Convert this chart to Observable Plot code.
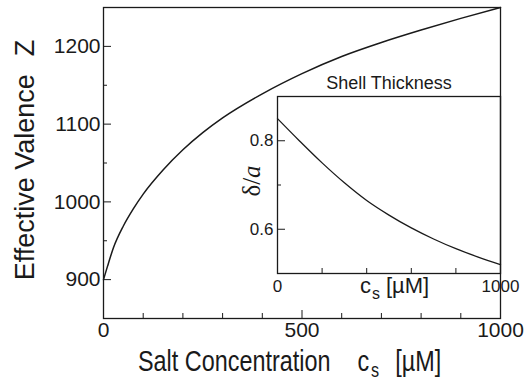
<!DOCTYPE html>
<html>
<head>
<meta charset="utf-8">
<script src="https://cdn.jsdelivr.net/npm/d3@7"></script>
<script src="https://cdn.jsdelivr.net/npm/@observablehq/plot@0.6"></script>
<style>
  html, body { margin: 0; padding: 0; background: white; }
  #wrap { position: relative; width: 531px; height: 383px; overflow: hidden; }
  #inset { position: absolute; left: 230px; top: 60px; }
  svg { font-family: "Liberation Sans", Arial, Helvetica, sans-serif; }
</style>
</head>
<body>
<div id="wrap"><div id="main"></div><div id="inset"></div></div>
<script>
// Main curve: effective valence Z vs salt concentration c_s [µM]
const saltConc = [0, 10, 25, 50, 75, 100, 150, 200, 250, 300, 400, 500, 600, 700, 800, 900, 1000];
const valence  = [900, 917, 941, 969, 991, 1010, 1041, 1067, 1089, 1108, 1139, 1165, 1187, 1205, 1221, 1236, 1250];

// Inset: shell thickness delta/a vs c_s
const insetConc  = [0, 100, 200, 300, 400, 500, 600, 700, 800, 900, 1000];
const shellRatio = [0.850, 0.799, 0.750, 0.705, 0.665, 0.632, 0.603, 0.578, 0.556, 0.537, 0.520];

// Ticks
const mainXMajor = [0, 500, 1000];
const mainXMinor = [100, 200, 300, 400, 600, 700, 800, 900];
const mainYMajor = [900, 1000, 1100, 1200];
const mainYMinor = [950, 1050, 1150];
const insetXLabels = [0, 1000];
const insetXTicks = [0, 200, 400, 600, 800, 1000];
const insetYMajor = [0.6, 0.8];
const insetYMinor = [0.7];

const ink = "#1a1a1a";

const mainData = saltConc.map((c, i) => ({c, z: valence[i]}));
const insetData = insetConc.map((c, i) => ({c, d: shellRatio[i]}));

const main = Plot.plot({
  width: 531, height: 383,
  marginLeft: 103, marginRight: 31, marginTop: 7, marginBottom: 65,
  style: {fontFamily: "Liberation Sans, Arial, sans-serif", fontSize: "21px", background: "white", color: ink, overflow: "visible"},
  x: {domain: [0, 1000]},
  y: {domain: [850, 1250]},
  marks: [
    Plot.frame({stroke: ink, strokeWidth: 1.3}),
    Plot.axisX(mainXMajor, {tickSize: 0, tickPadding: 4, label: null, fontSize: 21, tickFormat: d3.format("d")}),
    Plot.axisX(mainXMinor, {tickSize: -5, fill: "none", label: null, stroke: ink}),
    Plot.axisX(mainXMajor, {tickSize: -8, fill: "none", label: null, stroke: ink}),
    Plot.axisY(mainYMajor, {tickSize: 0, tickPadding: 3, label: null, fontSize: 21, tickFormat: d3.format("d")}),
    Plot.axisY(mainYMinor, {tickSize: -4, fill: "none", label: null, stroke: ink}),
    Plot.axisY(mainYMajor, {tickSize: -8, fill: "none", label: null, stroke: ink}),
    Plot.line(mainData, {x: "c", y: "z", curve: "monotone-x", stroke: ink, strokeWidth: 1.5})
  ]
});
document.getElementById("main").appendChild(main);

const inset = Plot.plot({
  width: 301, height: 240,
  marginLeft: 47, marginRight: 31, marginTop: 36, marginBottom: 27,
  style: {fontFamily: "Liberation Sans, Arial, sans-serif", fontSize: "17px", background: "transparent", color: ink, overflow: "visible"},
  x: {domain: [0, 1000]},
  y: {domain: [0.5, 0.9]},
  marks: [
    Plot.frame({stroke: ink, strokeWidth: 1.3}),
    Plot.axisX(insetXLabels, {tickSize: 0, tickPadding: 6, label: null, fontSize: 17, tickFormat: d3.format("d")}),
    Plot.axisX(insetXTicks, {tickSize: -5, fill: "none", label: null, stroke: ink}),
    Plot.axisY(insetYMajor, {tickSize: 0, tickPadding: 4, label: null, fontSize: 17, tickFormat: d3.format(".1f")}),
    Plot.axisY(insetYMajor, {tickSize: -8, fill: "none", label: null, stroke: ink}),
    Plot.axisY(insetYMinor, {tickSize: -4, fill: "none", label: null, stroke: ink}),
    Plot.line(insetData, {x: "c", y: "d", curve: "monotone-x", stroke: ink, strokeWidth: 1.3}),
    Plot.text(["Shell Thickness"], {frameAnchor: "top", dy: -8, lineAnchor: "bottom", fontSize: 18, fill: ink})
  ]
});
document.getElementById("inset").appendChild(inset);

// Axis titles (with subscripts)
const ms = d3.select(main);
const xl = ms.append("text")
  .attr("transform", "translate(138,371) scale(0.9,1.12)")
  .attr("text-anchor", "start")
  .attr("font-size", 26).attr("fill", ink);
xl.append("tspan").text("Salt Concentration");
xl.append("tspan").attr("dx", 30).text("c");
xl.append("tspan").attr("dx", 2).attr("dy", 5).attr("font-size", 18).text("s");
xl.append("tspan").attr("dx", 18).attr("dy", -5).text("[µM]");

const yl = ms.append("text")
  .attr("transform", "translate(34,160) rotate(-90)")
  .attr("text-anchor", "middle")
  .attr("font-size", 27).attr("fill", ink);
yl.append("tspan").text("Effective Valence");
yl.append("tspan").attr("dx", 18).text("Z");

const is = d3.select(inset);
const ixl = is.append("text")
  .attr("transform", "translate(130,233)")
  .attr("text-anchor", "start")
  .attr("font-size", 22).attr("fill", ink);
ixl.append("tspan").text("c");
ixl.append("tspan").attr("dx", 1).attr("dy", 6).attr("font-size", 16).text("s");
ixl.append("tspan").attr("dx", 6).attr("dy", -6).text("[µM]");

const iyl = is.append("text")
  .attr("transform", "translate(30,121) rotate(-90)")
  .attr("text-anchor", "middle")
  .attr("font-family", "Liberation Serif, Times New Roman, serif")
  .attr("font-size", 25).attr("fill", ink);
iyl.append("tspan").text("δ/");
iyl.append("tspan").attr("font-style", "italic").text("a");
</script>
</body>
</html>
